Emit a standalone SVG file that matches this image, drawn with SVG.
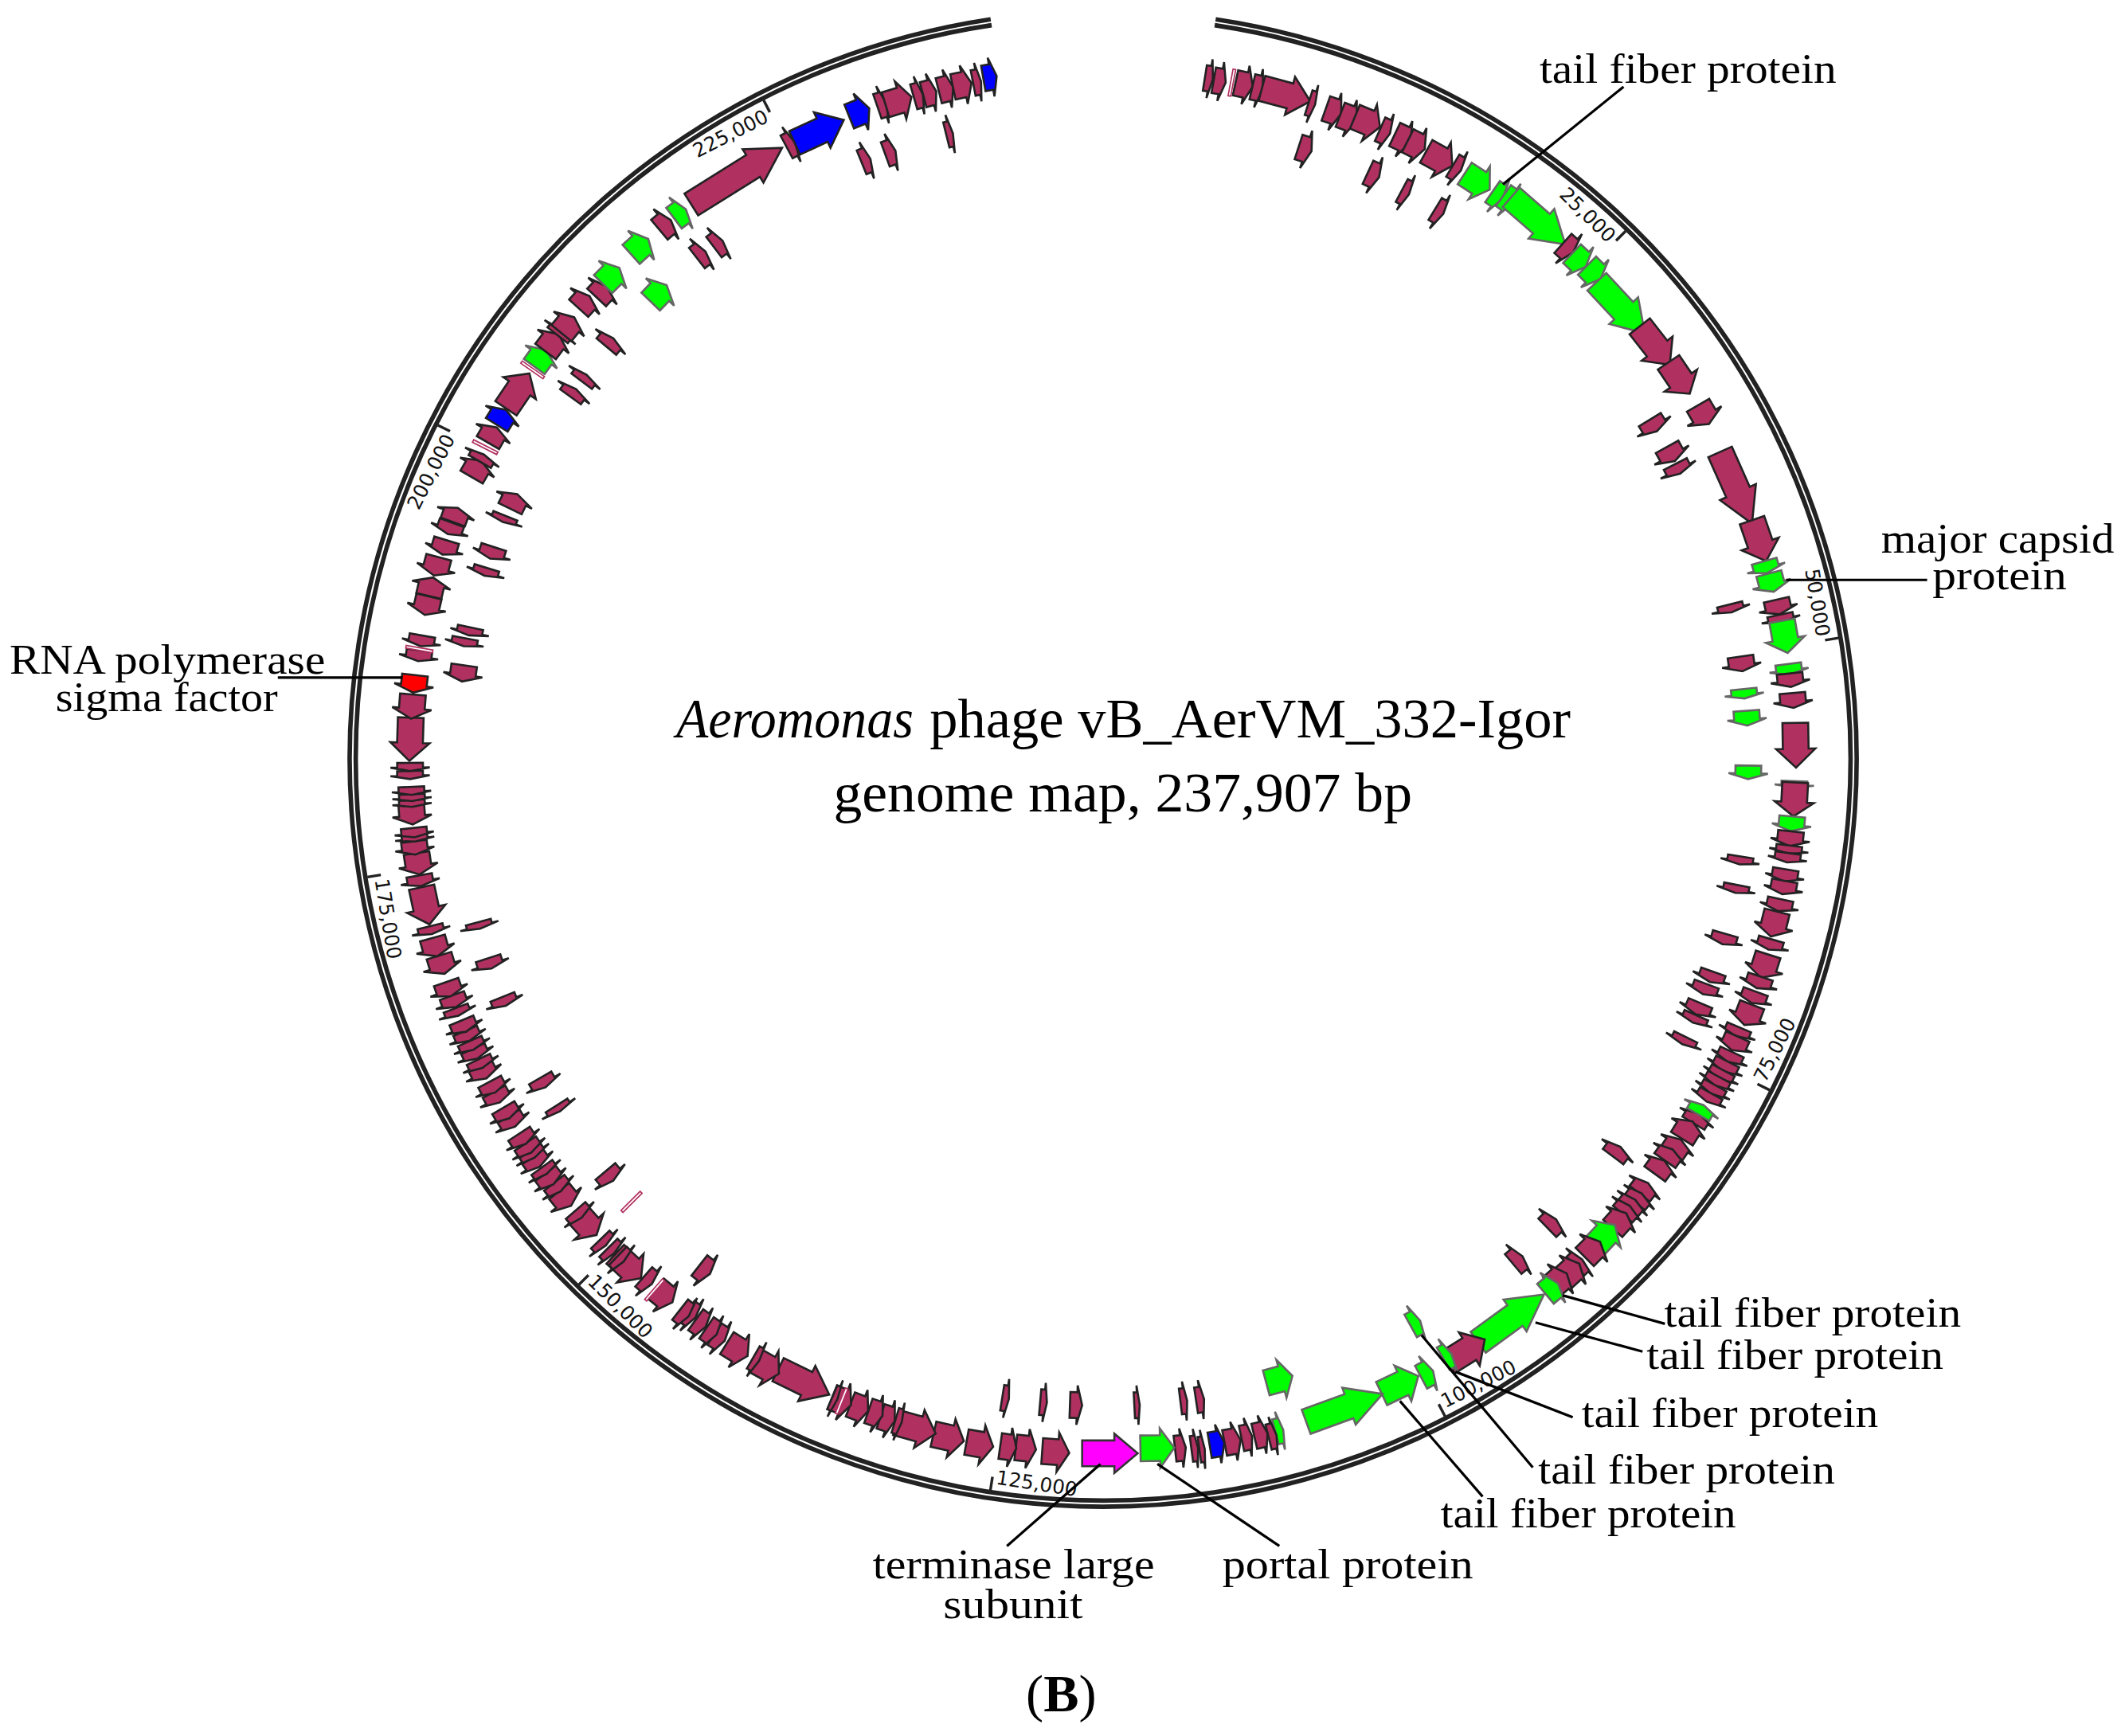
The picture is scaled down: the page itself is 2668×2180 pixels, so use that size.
<svg xmlns="http://www.w3.org/2000/svg" width="2668" height="2180" viewBox="0 0 2668 2180">
<style>
text{fill:#000}
.s{font-family:"Liberation Serif","Times New Roman",serif;font-size:31px}
.t{font-family:"Liberation Serif","Times New Roman",serif;font-size:41px}
.k{font-family:"DejaVu Sans",sans-serif;font-size:14.5px;fill:#111}
.m{fill:#B03060;stroke:#222}
.e{fill:#00FF00;stroke:#666}
.b{fill:#0000FF;stroke:#222}
.r{fill:#FF0000;stroke:#222}
.v{fill:#FF00FF;stroke:#333}
.ring{fill:none;stroke:#222;stroke-width:3.3}
.tick{stroke:#222;stroke-width:2}
.lead{stroke:#000;stroke-width:1.9;fill:none}
.g{stroke-width:2.6;vector-effect:non-scaling-stroke;stroke-linejoin:miter}
.p{fill:#fff;stroke:#B03060;stroke-width:1}
</style>
<defs>
<polygon id="g" class="g" points="-.5,-9.5 .08,-9.5 .08,-14.5 .5,0 .08,14.5 .08,9.5 -.5,9.5"/>
<polygon id="h" class="g" points="-.5,-9.5 .06,-9.5 .06,-14.5 .5,0 .06,14.5 .06,9.5 -.5,9.5"/>
<polygon id="j" class="g" points="-.5,-9.5 .18,-9.5 .18,-14.5 .5,0 .18,14.5 .18,9.5 -.5,9.5"/>
<rect id="p" class="p" x="-1" y="-10" width="2" height="20"/>
</defs>
<rect width="2668" height="2180" fill="#fff"/>
<g transform="scale(1.70153)">
<g id="ring">
<path class="ring" d="M897 14.2A556 552 0 1 1 731 14.2"/>
<path class="ring" d="M896.3 18.6A551.5 547.5 0 1 1 731.7 18.6"/>
</g>
<g id="ticks" transform="translate(814 560) scale(1.0036 .9964) translate(-814 -562)">
<line class="tick" x1="814" y1="14" x2="814" y2="24" transform="rotate(44.5 814 562)"/>
<line class="tick" x1="814" y1="14" x2="814" y2="24" transform="rotate(80.6 814 562)"/>
<line class="tick" x1="814" y1="14" x2="814" y2="24" transform="rotate(116.6 814 562)"/>
<line class="tick" x1="814" y1="14" x2="814" y2="24" transform="rotate(152.7 814 562)"/>
<line class="tick" x1="814" y1="14" x2="814" y2="24" transform="rotate(188.7 814 562)"/>
<line class="tick" x1="814" y1="14" x2="814" y2="24" transform="rotate(224.7 814 562)"/>
<line class="tick" x1="814" y1="14" x2="814" y2="24" transform="rotate(260.8 814 562)"/>
<line class="tick" x1="814" y1="14" x2="814" y2="24" transform="rotate(296.8 814 562)"/>
<line class="tick" x1="814" y1="14" x2="814" y2="24" transform="rotate(332.9 814 562)"/>
<text class="k" x="811" y="30" text-anchor="end" transform="rotate(44.5 814 562)">25,000</text>
<text class="k" x="811" y="30" text-anchor="end" transform="rotate(80.6 814 562)">50,000</text>
<text class="k" x="817" y="1105" transform="rotate(-63.4 814 562)">75,000</text>
<text class="k" x="817" y="1105" transform="rotate(-27.3 814 562)">100,000</text>
<text class="k" x="817" y="1105" transform="rotate(8.7 814 562)">125,000</text>
<text class="k" x="817" y="1105" transform="rotate(44.7 814 562)">150,000</text>
<text class="k" x="817" y="1105" transform="rotate(80.8 814 562)">175,000</text>
<text class="k" x="811" y="30" text-anchor="end" transform="rotate(296.8 814 562)">200,000</text>
<text class="k" x="811" y="30" text-anchor="end" transform="rotate(332.9 814 562)">225,000</text>
</g>
<g id="genes">
<use class="m" href="#g" transform="translate(892 58)rotate(9)scale(6 1)"/>
<use class="m" href="#g" transform="translate(900 60)rotate(10)scale(9 1)"/>
<use class="m" href="#g" transform="translate(918 62.5)rotate(12)scale(13 1)"/>
<use class="m" href="#g" transform="translate(928 65)rotate(13)scale(8 1)"/>
<use class="m" href="#g" transform="translate(949 70)rotate(15)scale(37 1)"/>
<use class="m" href="#g" transform="translate(968 76.5)rotate(17.6)scale(5 1)"/>
<use class="m" href="#g" transform="translate(963 110)rotate(18)scale(10 1)"/>
<use class="m" href="#g" transform="translate(984 82)rotate(19.5)scale(12 1)"/>
<use class="m" href="#g" transform="translate(995 87)rotate(21)scale(13 1)"/>
<use class="m" href="#g" transform="translate(1009 90)rotate(22.5)scale(20 1)"/>
<use class="m" href="#g" transform="translate(1022 97)rotate(24)scale(8 1)"/>
<use class="m" href="#g" transform="translate(1035 102)rotate(25.5)scale(13 1)"/>
<use class="m" href="#g" transform="translate(1045 107)rotate(27)scale(14 1)"/>
<use class="m" href="#g" transform="translate(1062 117)rotate(29)scale(22 1)"/>
<use class="m" href="#g" transform="translate(1075 124)rotate(31)scale(7 1)"/>
<use class="m" href="#g" transform="translate(1013.5 129)rotate(24.7)scale(9 1)"/>
<use class="m" href="#g" transform="translate(1037 142)rotate(28)scale(6 1)"/>
<use class="m" href="#g" transform="translate(1062 156)rotate(31.4)scale(7 1)"/>
<use class="e" href="#g" transform="translate(1090 134)rotate(33)scale(22 1)"/>
<use class="e" href="#g" transform="translate(1105 144)rotate(35)scale(9 1)"/>
<use class="e" href="#g" transform="translate(1113 147)rotate(36)scale(9 1)"/>
<use class="e" href="#h" transform="translate(1135 163)rotate(41)scale(53 1)"/>
<use class="m" href="#g" transform="translate(1157 183)rotate(42)scale(10 1)"/>
<use class="e" href="#g" transform="translate(1165 192)rotate(43.5)scale(14 1)"/>
<use class="e" href="#g" transform="translate(1176 201)rotate(45)scale(14 1)"/>
<use class="e" href="#h" transform="translate(1196 227)rotate(47)scale(52 1)"/>
<use class="m" href="#g" transform="translate(1221 255)rotate(52)scale(36 1)"/>
<use class="m" href="#g" transform="translate(1239 279)rotate(56)scale(28 1)"/>
<use class="m" href="#g" transform="translate(1257 306)rotate(60)scale(16 1)"/>
<use class="m" href="#g" transform="translate(1220 314)rotate(58.5)scale(10 1)"/>
<use class="m" href="#g" transform="translate(1233 335)rotate(61)scale(12 1)"/>
<use class="m" href="#g" transform="translate(1238 346)rotate(63)scale(8 1)"/>
<use class="m" href="#h" transform="translate(1281 360)rotate(66)scale(58 1)"/>
<use class="m" href="#g" transform="translate(1298 399)rotate(71)scale(32 1)"/>
<use class="e" href="#g" transform="translate(1303 418.5)rotate(74)scale(9 1)"/>
<use class="e" href="#g" transform="translate(1307 430)rotate(75)scale(14 1)"/>
<use class="m" href="#g" transform="translate(1277 449)rotate(76)scale(6 1)"/>
<use class="m" href="#g" transform="translate(1312 448)rotate(77)scale(11 1)"/>
<use class="m" href="#g" transform="translate(1314 456.6)rotate(78)scale(6 1)"/>
<use class="e" href="#g" transform="translate(1317 470)rotate(80)scale(24 1)"/>
<use class="m" href="#g" transform="translate(1285 490)rotate(82)scale(11 1)"/>
<use class="e" href="#g" transform="translate(1320 494)rotate(82.5)scale(8 1)"/>
<use class="m" href="#g" transform="translate(1321 502)rotate(84)scale(10 1)"/>
<use class="e" href="#g" transform="translate(1287 512)rotate(84)scale(7 1)"/>
<use class="m" href="#g" transform="translate(1323 517)rotate(85)scale(11 1)"/>
<use class="e" href="#g" transform="translate(1289 530)rotate(86)scale(11 1)"/>
<use class="m" href="#g" transform="translate(1325 550)rotate(89)scale(33 1)"/>
<use class="e" href="#g" transform="translate(1290 570)rotate(91)scale(10 1)"/>
<use class="e" href="#g" transform="translate(1324 579)rotate(92)scale(5 1)"/>
<use class="m" href="#g" transform="translate(1324 590)rotate(93)scale(25 1)"/>
<use class="e" href="#g" transform="translate(1322 608)rotate(95)scale(11 1)"/>
<use class="m" href="#g" transform="translate(1321 619)rotate(96)scale(11 1)"/>
<use class="m" href="#g" transform="translate(1320 627)rotate(97)scale(6 1)"/>
<use class="m" href="#g" transform="translate(1319 633)rotate(98)scale(7 1)"/>
<use class="m" href="#g" transform="translate(1284 635)rotate(99)scale(6 1)"/>
<use class="m" href="#g" transform="translate(1317 646)rotate(99.5)scale(9 1)"/>
<use class="m" href="#g" transform="translate(1316 655)rotate(100.5)scale(10 1)"/>
<use class="m" href="#g" transform="translate(1281 656)rotate(101)scale(6 1)"/>
<use class="m" href="#g" transform="translate(1313 668)rotate(102)scale(9 1)"/>
<use class="m" href="#g" transform="translate(1309 682)rotate(104)scale(19 1)"/>
<use class="m" href="#g" transform="translate(1272 693)rotate(106)scale(8 1)"/>
<use class="m" href="#g" transform="translate(1306 697)rotate(106)scale(8 1)"/>
<use class="m" href="#g" transform="translate(1302 713)rotate(107.5)scale(18 1)"/>
<use class="m" href="#g" transform="translate(1297.7 725)rotate(108.5)scale(9 1)"/>
<use class="m" href="#g" transform="translate(1263 721)rotate(109.5)scale(8 1)"/>
<use class="m" href="#g" transform="translate(1258 730)rotate(110.5)scale(8 1)"/>
<use class="m" href="#g" transform="translate(1294 736)rotate(110)scale(9 1)"/>
<use class="m" href="#g" transform="translate(1290 749)rotate(111)scale(16 1)"/>
<use class="m" href="#g" transform="translate(1253 744.5)rotate(113)scale(9 1)"/>
<use class="m" href="#g" transform="translate(1250.5 752)rotate(114)scale(6 1)"/>
<use class="m" href="#g" transform="translate(1282 761.4)rotate(113)scale(7 1)"/>
<use class="m" href="#g" transform="translate(1280 770)rotate(114)scale(11 1)"/>
<use class="m" href="#g" transform="translate(1242.6 768)rotate(116)scale(6 1)"/>
<use class="m" href="#g" transform="translate(1276.4 780)rotate(115)scale(8 1)"/>
<use class="m" href="#g" transform="translate(1273 787)rotate(117)scale(8 1)"/>
<use class="m" href="#g" transform="translate(1270 793)rotate(118)scale(7 1)"/>
<use class="m" href="#g" transform="translate(1267 798)rotate(118)scale(7 1)"/>
<use class="m" href="#g" transform="translate(1264 804)rotate(119)scale(7 1)"/>
<use class="m" href="#g" transform="translate(1261 810)rotate(119)scale(7 1)"/>
<use class="m" href="#g" transform="translate(1251.6 825.5)rotate(-59)scale(8 1)"/>
<use class="e" href="#g" transform="translate(1255 819)rotate(-60)scale(8 1)"/>
<use class="m" href="#g" transform="translate(1245 834)rotate(-58)scale(15 1)"/>
<use class="m" href="#g" transform="translate(1237 846)rotate(-56)scale(12 1)"/>
<use class="m" href="#g" transform="translate(1231.4 852.4)rotate(-55)scale(10 1)"/>
<use class="m" href="#g" transform="translate(1224.6 861.5)rotate(-54)scale(12 1)"/>
<use class="m" href="#g" transform="translate(1193 850)rotate(-53)scale(9 1)"/>
<use class="m" href="#g" transform="translate(1213 877)rotate(-51.7)scale(10 1)"/>
<use class="m" href="#g" transform="translate(1209 884)rotate(-50.8)scale(8 1)"/>
<use class="m" href="#g" transform="translate(1204 888.5)rotate(-50)scale(8 1)"/>
<use class="m" href="#g" transform="translate(1200 893)rotate(-49)scale(8 1)"/>
<use class="m" href="#g" transform="translate(1195 901)rotate(-48)scale(15 1)"/>
<use class="e" href="#g" transform="translate(1184 912)rotate(-47)scale(22 1)"/>
<use class="m" href="#g" transform="translate(1175 922)rotate(-45)scale(16 1)"/>
<use class="m" href="#g" transform="translate(1145 903)rotate(-44)scale(9 1)"/>
<use class="m" href="#g" transform="translate(1120 930)rotate(-40)scale(9 1)"/>
<use class="m" href="#g" transform="translate(1165 932)rotate(-43.5)scale(7 1)"/>
<use class="m" href="#g" transform="translate(1159.4 938)rotate(-42.5)scale(16 1)"/>
<use class="m" href="#g" transform="translate(1150.4 944.7)rotate(-41)scale(15 1)"/>
<use class="e" href="#g" transform="translate(1145 951)rotate(-40)scale(12 1)"/>
<use class="e" href="#h" transform="translate(1115 973)rotate(-36)scale(60 1)"/>
<use class="m" href="#g" transform="translate(1082 997)rotate(-32)scale(32 1)"/>
<use class="e" href="#g" transform="translate(1068 1001)rotate(-30)scale(7 1)"/>
<use class="e" href="#g" transform="translate(1044.4 976.6)rotate(-29)scale(8 1)"/>
<use class="e" href="#g" transform="translate(1053 1014)rotate(-28)scale(10 1)"/>
<use class="e" href="#g" transform="translate(1033 1022)rotate(-25.5)scale(30 1)"/>
<use class="e" href="#h" transform="translate(992 1039)rotate(-20)scale(60 1)"/>
<use class="e" href="#g" transform="translate(944 1018)rotate(-15)scale(20 1)"/>
<use class="e" href="#g" transform="translate(944 1056)rotate(-14.8)scale(6 1)"/>
<use class="m" href="#g" transform="translate(939 1059.9)rotate(-14)scale(6 1)"/>
<use class="m" href="#g" transform="translate(930.4 1058.9)rotate(-13)scale(10 1)"/>
<use class="m" href="#g" transform="translate(920 1060.8)rotate(-12)scale(8 1)"/>
<use class="m" href="#g" transform="translate(909.5 1063.8)rotate(-10.8)scale(12 1)"/>
<use class="b" href="#g" transform="translate(898 1065.7)rotate(-9.5)scale(11 1)"/>
<use class="m" href="#g" transform="translate(887 1069.7)rotate(-8)scale(4 1)"/>
<use class="m" href="#g" transform="translate(881.6 1069)rotate(-7.6)scale(5 1)"/>
<use class="m" href="#g" transform="translate(871 1068.7)rotate(-6.4)scale(8 1)"/>
<use class="e" href="#g" transform="translate(854 1068.7)rotate(-1)scale(25 1)"/>
<use class="v" href="#g" transform="translate(819 1072.6)scale(41 1)"/>
<use class="m" href="#g" transform="translate(885.5 1033)rotate(-8.6)scale(6 1)"/>
<use class="m" href="#g" transform="translate(873.5 1034)rotate(-7)scale(5 1)"/>
<use class="m" href="#g" transform="translate(839 1037)rotate(-3)scale(4 1)"/>
<use class="m" href="#g" transform="translate(794 1037)rotate(2)scale(9 1)"/>
<use class="m" href="#g" transform="translate(770 1035)rotate(5)scale(5 1)"/>
<use class="m" href="#g" transform="translate(742 1032)rotate(9)scale(5 1)"/>
<use class="m" href="#g" transform="translate(779 1071.6)rotate(4)scale(20 1)"/>
<use class="m" href="#g" transform="translate(757 1069)rotate(6.4)scale(15 1)"/>
<use class="m" href="#g" transform="translate(744 1068)rotate(8)scale(12 1)"/>
<use class="m" href="#g" transform="translate(723 1066)rotate(10)scale(20 1)"/>
<use class="m" href="#g" transform="translate(700 1061)rotate(13)scale(23 1)"/>
<use class="m" href="#g" transform="translate(676 1054)rotate(15.7)scale(30 1)"/>
<use class="m" href="#g" transform="translate(663 1049)rotate(17)scale(5 1)"/>
<use class="m" href="#g" transform="translate(655 1047)rotate(18)scale(11 1)"/>
<use class="m" href="#g" transform="translate(646 1043)rotate(19)scale(11 1)"/>
<use class="m" href="#g" transform="translate(634 1039)rotate(20.7)scale(14 1)"/>
<use class="m" href="#g" transform="translate(621 1034)rotate(22)scale(15 1)"/>
<use class="m" href="#g" transform="translate(616 1032)rotate(23)scale(4 1)"/>
<use class="m" href="#h" transform="translate(593 1020)rotate(26)scale(42 1)"/>
<use class="m" href="#g" transform="translate(566 1009)rotate(29)scale(20 1)"/>
<use class="m" href="#g" transform="translate(558 1003)rotate(30)scale(5 1)"/>
<use class="m" href="#g" transform="translate(544 996)rotate(32)scale(18 1)"/>
<use class="m" href="#g" transform="translate(531 987)rotate(33.7)scale(9 1)"/>
<use class="m" href="#g" transform="translate(525 982.5)rotate(34.5)scale(9 1)"/>
<use class="m" href="#g" transform="translate(517 976.6)rotate(35.7)scale(9 1)"/>
<use class="m" href="#g" transform="translate(510 970)rotate(36.7)scale(8 1)"/>
<use class="m" href="#g" transform="translate(505 969)rotate(38)scale(8 1)"/>
<use class="m" href="#g" transform="translate(520 937)rotate(38)scale(10 1)"/>
<use class="m" href="#g" transform="translate(490 956)rotate(39.4)scale(16 1)"/>
<use class="m" href="#g" transform="translate(478 945)rotate(41)scale(8 1)"/>
<use class="m" href="#g" transform="translate(463.5 934.5)rotate(43)scale(26 1)"/>
<use class="m" href="#g" transform="translate(458 929)rotate(43.8)scale(6 1)"/>
<use class="m" href="#g" transform="translate(451 923)rotate(45)scale(6 1)"/>
<use class="m" href="#g" transform="translate(445 917)rotate(46)scale(6 1)"/>
<use class="m" href="#g" transform="translate(433.5 904)rotate(48)scale(20 1)"/>
<use class="m" href="#g" transform="translate(427 896)rotate(49)scale(7 1)"/>
<use class="m" href="#g" transform="translate(417 884.5)rotate(51)scale(14 1)"/>
<use class="m" href="#g" transform="translate(449.6 868)rotate(50)scale(9 1)"/>
<use class="m" href="#g" transform="translate(411.4 876)rotate(52)scale(8 1)"/>
<use class="m" href="#g" transform="translate(405.5 870)rotate(53)scale(10 1)"/>
<use class="m" href="#g" transform="translate(401.6 864)rotate(54)scale(6 1)"/>
<use class="m" href="#g" transform="translate(395.7 857.4)rotate(54.8)scale(9 1)"/>
<use class="m" href="#g" transform="translate(392.8 851.8)rotate(55.5)scale(6 1)"/>
<use class="m" href="#g" transform="translate(389.8 847.3)rotate(56)scale(8 1)"/>
<use class="m" href="#g" transform="translate(385.5 840.5)rotate(57)scale(9 1)"/>
<use class="m" href="#g" transform="translate(377.7 827.7)rotate(58.6)scale(9 1)"/>
<use class="m" href="#g" transform="translate(373.7 821.4)rotate(59.5)scale(9 1)"/>
<use class="m" href="#g" transform="translate(412 818)rotate(57.5)scale(5 1)"/>
<use class="m" href="#g" transform="translate(366.7 809.7)rotate(61)scale(9 1)"/>
<use class="m" href="#g" transform="translate(363.4 802.3)rotate(62)scale(9 1)"/>
<use class="m" href="#g" transform="translate(400.6 799)rotate(60)scale(8 1)"/>
<use class="m" href="#g" transform="translate(356.5 791)rotate(63.4)scale(11 1)"/>
<use class="m" href="#g" transform="translate(354.5 785)rotate(64)scale(7 1)"/>
<use class="m" href="#g" transform="translate(350.6 777.6)rotate(65)scale(8 1)"/>
<use class="m" href="#g" transform="translate(348 771.5)rotate(66)scale(7 1)"/>
<use class="m" href="#g" transform="translate(344.8 764.5)rotate(66.6)scale(8 1)"/>
<use class="m" href="#g" transform="translate(342.2 757.3)rotate(67.5)scale(9 1)"/>
<use class="m" href="#g" transform="translate(337.3 746.8)rotate(68.8)scale(6 1)"/>
<use class="m" href="#g" transform="translate(335 739)rotate(69.7)scale(9 1)"/>
<use class="m" href="#g" transform="translate(372 739)rotate(68)scale(7 1)"/>
<use class="m" href="#g" transform="translate(331 730)rotate(70.8)scale(11 1)"/>
<use class="m" href="#g" transform="translate(326 712)rotate(73)scale(14 1)"/>
<use class="m" href="#g" transform="translate(361.4 711)rotate(72)scale(8 1)"/>
<use class="m" href="#g" transform="translate(321 699)rotate(74.5)scale(14 1)"/>
<use class="m" href="#g" transform="translate(318 686.5)rotate(76)scale(6 1)"/>
<use class="m" href="#g" transform="translate(353.6 683)rotate(75)scale(5 1)"/>
<use class="m" href="#g" transform="translate(314 668.5)rotate(78)scale(28 1)"/>
<use class="m" href="#g" transform="translate(310 650)rotate(80)scale(8 1)"/>
<use class="m" href="#g" transform="translate(308.5 637.5)rotate(81.5)scale(16 1)"/>
<use class="m" href="#g" transform="translate(306 625.8)rotate(82.8)scale(10 1)"/>
<use class="m" href="#g" transform="translate(306 618.6)rotate(83.6)scale(5 1)"/>
<use class="m" href="#g" transform="translate(305.6 614.5)rotate(84)scale(7 1)"/>
<use class="m" href="#g" transform="translate(304 601)rotate(85.6)scale(15 1)"/>
<use class="m" href="#g" transform="translate(304 593)rotate(86.5)scale(5 1)"/>
<use class="m" href="#g" transform="translate(304 588.7)rotate(87)scale(5 1)"/>
<use class="m" href="#g" transform="translate(303.6 583.7)rotate(87.5)scale(6 1)"/>
<use class="m" href="#g" transform="translate(302.6 572)rotate(88.5)scale(6 1)"/>
<use class="m" href="#g" transform="translate(302.6 566)rotate(89.5)scale(6 1)"/>
<use class="m" href="#g" transform="translate(302.6 545.6)rotate(91.8)scale(32 1)"/>
<use class="m" href="#g" transform="translate(304 521.5)rotate(94.5)scale(18 1)"/>
<use class="r" href="#g" transform="translate(305.5 504.7)rotate(96.4)scale(13 1)"/>
<use class="m" href="#g" transform="translate(341.7 497)rotate(98)scale(12 1)"/>
<use class="m" href="#g" transform="translate(309 484)rotate(98)scale(8 1)"/>
<use class="m" href="#g" transform="translate(311 473)rotate(100)scale(8 1)"/>
<use class="m" href="#g" transform="translate(342.7 474)rotate(101)scale(6 1)"/>
<use class="m" href="#g" transform="translate(346.6 466)rotate(102)scale(6 1)"/>
<use class="m" href="#g" transform="translate(315 447)rotate(103)scale(14 1)"/>
<use class="m" href="#g" transform="translate(318 433)rotate(283)scale(14 1)"/>
<use class="m" href="#g" transform="translate(322 418)rotate(105)scale(14 1)"/>
<use class="m" href="#g" transform="translate(328 404)rotate(107)scale(11 1)"/>
<use class="m" href="#g" transform="translate(358.4 422)rotate(107)scale(6 1)"/>
<use class="m" href="#g" transform="translate(363 408)rotate(108)scale(9 1)"/>
<use class="m" href="#g" transform="translate(332 390)rotate(110)scale(9 1)"/>
<use class="m" href="#g" transform="translate(336 380)rotate(290)scale(11 1)"/>
<use class="m" href="#g" transform="translate(372 383)rotate(112)scale(5 1)"/>
<use class="m" href="#g" transform="translate(379 370)rotate(296)scale(12 1)"/>
<use class="m" href="#g" transform="translate(351.5 346)rotate(300)scale(14 1)"/>
<use class="m" href="#g" transform="translate(355.5 338)rotate(300)scale(6 1)"/>
<use class="m" href="#g" transform="translate(363.3 321)rotate(300)scale(13 1)"/>
<use class="b" href="#g" transform="translate(370 308)rotate(302)scale(13 1)"/>
<use class="m" href="#g" transform="translate(382 288.5)rotate(304)scale(31 1)"/>
<use class="m" href="#g" transform="translate(423 290)rotate(306)scale(7 1)"/>
<use class="m" href="#g" transform="translate(431 279)rotate(307)scale(6 1)"/>
<use class="e" href="#g" transform="translate(398.6 264.4)rotate(306)scale(15 1)"/>
<use class="m" href="#g" transform="translate(407.4 253)rotate(307)scale(16 1)"/>
<use class="m" href="#g" transform="translate(450 252.7)rotate(310)scale(8 1)"/>
<use class="m" href="#g" transform="translate(413 245.5)rotate(308)scale(5 1)"/>
<use class="m" href="#g" transform="translate(419 240)rotate(309)scale(15 1)"/>
<use class="m" href="#g" transform="translate(431 223)rotate(312)scale(12 1)"/>
<use class="m" href="#g" transform="translate(444 215.5)rotate(313)scale(11 1)"/>
<use class="e" href="#g" transform="translate(451 203.7)rotate(315)scale(17 1)"/>
<use class="e" href="#g" transform="translate(486 216.5)rotate(314)scale(17 1)"/>
<use class="e" href="#g" transform="translate(472 182)rotate(318)scale(17 1)"/>
<use class="m" href="#g" transform="translate(517.4 188)rotate(322)scale(8 1)"/>
<use class="m" href="#g" transform="translate(530 180)rotate(323)scale(8 1)"/>
<use class="m" href="#g" transform="translate(490.8 166)rotate(320)scale(11 1)"/>
<use class="e" href="#g" transform="translate(501.7 157.7)rotate(323)scale(11 1)"/>
<use class="m" href="#j" transform="translate(543.6 130)rotate(328)scale(79 1)"/>
<use class="m" href="#g" transform="translate(583.5 106.8)rotate(332)scale(7 1)"/>
<use class="b" href="#h" transform="translate(604.5 97)rotate(335)scale(40 1)"/>
<use class="b" href="#g" transform="translate(634 83)rotate(338)scale(16 1)"/>
<use class="m" href="#g" transform="translate(639 118.5)rotate(338)scale(7 1)"/>
<use class="m" href="#g" transform="translate(657 112.6)rotate(340)scale(8 1)"/>
<use class="m" href="#g" transform="translate(700.7 99)rotate(346)scale(5 1)"/>
<use class="m" href="#g" transform="translate(650.7 77.4)rotate(341)scale(7 1)"/>
<use class="m" href="#g" transform="translate(663 74.4)rotate(343)scale(20 1)"/>
<use class="m" href="#g" transform="translate(677.6 70.5)rotate(344)scale(7 1)"/>
<use class="m" href="#g" transform="translate(686 68.6)rotate(345)scale(10 1)"/>
<use class="m" href="#g" transform="translate(698 65.6)rotate(346)scale(11 1)"/>
<use class="m" href="#g" transform="translate(710 62.7)rotate(348)scale(14 1)"/>
<use class="m" href="#g" transform="translate(721 60.7)rotate(349)scale(6 1)"/>
<use class="b" href="#g" transform="translate(730.5 57)rotate(350)scale(10 1)"/>
<use href="#p" transform="translate(909 61)rotate(10.6)"/>
<use href="#p" transform="translate(621 1034)rotate(22)"/>
<use href="#p" transform="translate(483 952)rotate(41)"/>
<use href="#p" transform="translate(466 887)rotate(45)"/>
<use href="#p" transform="translate(393 273)rotate(-55)"/>
<use href="#p" transform="translate(358 330)rotate(-63)"/>
<use href="#p" transform="translate(309.4 479)rotate(-80)"/>
</g>
<g id="connectors">
<line class="lead" x1="1198" y1="64" x2="1109" y2="136"/>
<line class="lead" x1="1318" y1="428" x2="1422" y2="428"/>
<line class="lead" x1="205" y1="500" x2="297" y2="500"/>
<line class="lead" x1="1153" y1="956" x2="1228.5" y2="977"/>
<line class="lead" x1="1133" y1="976" x2="1212" y2="997.5"/>
<line class="lead" x1="1074" y1="1012.4" x2="1160.5" y2="1046"/>
<line class="lead" x1="1049" y1="985.4" x2="1131" y2="1083"/>
<line class="lead" x1="1033" y1="1034" x2="1094" y2="1104.5"/>
<line class="lead" x1="854" y1="1080.4" x2="944" y2="1141"/>
<line class="lead" x1="812" y1="1080.5" x2="743" y2="1141"/>
</g>
<g id="labels">
<text class="s" x="1136" y="61" textLength="219" lengthAdjust="spacingAndGlyphs">tail fiber protein</text>
<text class="s" x="1388" y="408" textLength="172" lengthAdjust="spacingAndGlyphs">major capsid</text>
<text class="s" x="1426" y="435" textLength="99" lengthAdjust="spacingAndGlyphs">protein</text>
<text class="s" x="7" y="497" textLength="233" lengthAdjust="spacingAndGlyphs">RNA polymerase</text>
<text class="s" x="41" y="525" textLength="164" lengthAdjust="spacingAndGlyphs">sigma factor</text>
<text class="s" x="1228" y="979" textLength="219" lengthAdjust="spacingAndGlyphs">tail fiber protein</text>
<text class="s" x="1215" y="1010" textLength="219" lengthAdjust="spacingAndGlyphs">tail fiber protein</text>
<text class="s" x="1167" y="1053" textLength="219" lengthAdjust="spacingAndGlyphs">tail fiber protein</text>
<text class="s" x="1135" y="1095" textLength="219" lengthAdjust="spacingAndGlyphs">tail fiber protein</text>
<text class="s" x="1063" y="1127" textLength="218" lengthAdjust="spacingAndGlyphs">tail fiber protein</text>
<text class="s" x="644" y="1165" textLength="208" lengthAdjust="spacingAndGlyphs">terminase large</text>
<text class="s" x="696" y="1194" textLength="103" lengthAdjust="spacingAndGlyphs">subunit</text>
<text class="s" x="902" y="1165" textLength="185" lengthAdjust="spacingAndGlyphs">portal protein</text>
<text class="t" x="499" y="544" font-style="italic" textLength="175" lengthAdjust="spacingAndGlyphs">Aeromonas</text>
<text class="t" x="686" y="544" textLength="473" lengthAdjust="spacingAndGlyphs">phage vB_AerVM_332-Igor</text>
<text class="t" x="615" y="599" textLength="427" lengthAdjust="spacingAndGlyphs">genome map, 237,907 bp</text>
<text class="s" x="757" y="1263" style="font-size:39px">(<tspan font-weight="bold">B</tspan>)</text>
</g>
</g>
</svg>
